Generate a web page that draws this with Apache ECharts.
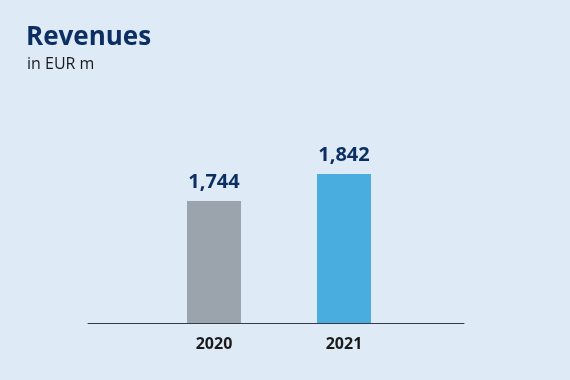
<!DOCTYPE html>
<html>
<head>
<meta charset="utf-8">
<script src="https://cdn.jsdelivr.net/npm/echarts@6/dist/echarts.min.js"></script>
<style>
html,body{margin:0;padding:0;background:#deebf7;}
#chart{width:570px;height:380px;}
</style>
</head>
<body>
<div id="chart"></div>
<script>
const categories = ['2020', '2021'];
const revenues = [1744, 1842];
const barColors = ['#9ba3ad', '#4aaddf'];

const chart = echarts.init(document.getElementById('chart'), null, {renderer: 'canvas'});
const font = '"Open Sans", "Noto Sans", sans-serif';
chart.setOption({
  backgroundColor: '#deebf7',
  animation: false,
  title: [{
    text: 'Revenues',
    left: 26, top: 25, padding: 0,
    textStyle: {fontFamily: font, fontWeight: 'bold', fontSize: 26, color: '#0c2e63'}
  }, {
    text: 'in EUR m',
    left: 27, top: 56, padding: 0,
    textStyle: {fontFamily: font, fontWeight: 'normal', fontSize: 16, color: '#1a1a1a'}
  }],
  grid: [
    {left: 149, right: 161, top: 103, bottom: 57},
    {left: 88, right: 106, top: 103, bottom: 57}
  ],
  xAxis: [{
    type: 'category', data: categories, gridIndex: 0,
    axisLine: {show: false}, axisTick: {show: false},
    axisLabel: {fontFamily: font, fontWeight: 'bold', fontSize: 16, color: '#1a1a1a', margin: 13}
  }, {
    type: 'value', gridIndex: 1, min: 0, max: 1,
    axisLine: {show: true, onZero: false, lineStyle: {color: '#333d49', width: 1}},
    axisTick: {show: false}, axisLabel: {show: false}, splitLine: {show: false}
  }],
  yAxis: [{
    type: 'value', gridIndex: 0, min: 1300, max: 2100,
    show: false, splitLine: {show: false}
  }, {
    type: 'value', gridIndex: 1, min: 0, max: 1, show: false, splitLine: {show: false}
  }],
  series: [{
    type: 'bar', xAxisIndex: 0, yAxisIndex: 0,
    barWidth: 54,
    data: revenues.map((v, i) => ({value: v, itemStyle: {color: barColors[i]}})),
    label: {
      show: true, position: 'top', distance: 9,
      fontFamily: font, fontWeight: 'bold', fontSize: 20, color: '#0c2e63',
      formatter: p => p.value.toLocaleString('en-US')
    }
  }]
});
</script>
</body>
</html>
